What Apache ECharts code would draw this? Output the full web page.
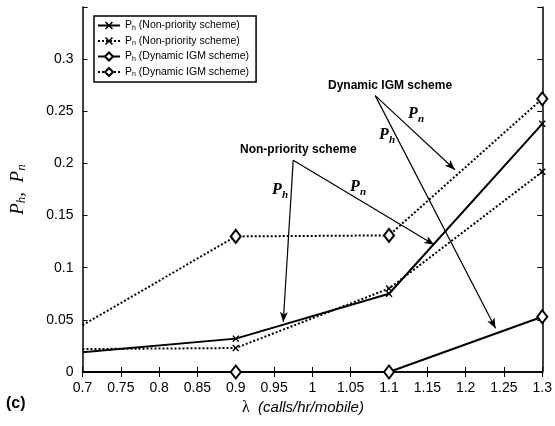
<!DOCTYPE html>
<html>
<head>
<meta charset="utf-8">
<script src="https://cdn.jsdelivr.net/npm/echarts@6/dist/echarts.min.js"></script>
<style>
  html, body { margin: 0; padding: 0; background: #fff; }
  #chart { width: 555px; height: 426px; }
</style>
</head>
<body>
<div id="chart"></div>
<script>
var myChart = echarts.init(document.getElementById('chart'));

// 数据
var lambdas = [0.7, 0.9, 1.1, 1.3];
var phNonPriority = [0.019, 0.032, 0.075, 0.238];
var pnNonPriority = [0.022, 0.023, 0.080, 0.192];
var phDynamic = [0, 0, 0, 0.053];
var pnDynamic = [0.045, 0.130, 0.131, 0.262];

var seriesNames = ['Ph (Non-priority scheme)', 'Pn (Non-priority scheme)', 'Ph (Dynamic IGM scheme)', 'Pn (Dynamic IGM scheme)'];
var legendSub = ['h', 'n', 'h', 'n'];
var legendText = [' (Non-priority scheme)', ' (Non-priority scheme)', ' (Dynamic IGM scheme)', ' (Dynamic IGM scheme)'];

var crossPath = 'path://M0,1.4L1.4,0L5,3.6L8.6,0L10,1.4L6.4,5L10,8.6L8.6,10L5,6.4L1.4,10L0,8.6L3.6,5Z';
var sans = '"Liberation Sans", Arial, Helvetica, sans-serif';
var serif = '"Liberation Serif", "Times New Roman", serif';

function pairs(vals) {
    var out = [];
    for (var i = 0; i < lambdas.length; i++) {
        if (i === 0) {
            out.push({ value: [lambdas[i], vals[i]], symbol: 'none' });
        } else {
            out.push([lambdas[i], vals[i]]);
        }
    }
    return out;
}

function makeSeries(name, vals, dotted, diamond) {
    return {
        name: name,
        type: 'line',
        data: pairs(vals),
        clip: false,
        symbol: diamond ? 'diamond' : crossPath,
        symbolSize: diamond ? [10, 13] : 7,
        itemStyle: diamond ? { color: '#fff', borderColor: '#000', borderWidth: 2 } : { color: '#000' },
        lineStyle: { color: '#000', width: 2, type: dotted ? 'dotted' : 'solid' },
        emphasis: { disabled: true },
        animation: false
    };
}

// 注释箭头 (数据坐标)
var arrows = [
    [[0.975, 0.203], [0.962, 0.048]],
    [[0.975, 0.203], [1.159, 0.122]],
    [[1.082, 0.265], [1.186, 0.194]],
    [[1.082, 0.265], [1.239, 0.042]]
];

var series = [
    makeSeries(seriesNames[0], phNonPriority, false, false),
    makeSeries(seriesNames[1], pnNonPriority, true, false),
    makeSeries(seriesNames[2], phDynamic, false, true),
    makeSeries(seriesNames[3], pnDynamic, true, true)
];

series[0].markLine = {
    silent: true,
    animation: false,
    symbol: ['none', 'arrow'],
    symbolSize: [6, 10],
    label: { show: false },
    lineStyle: { color: '#000', width: 1.2, type: 'solid' },
    data: arrows.map(function (a) {
        return [{ coord: a[0] }, { coord: a[1] }];
    })
};

function pLabel(x, y, sub) {
    return [
        { type: 'text', left: x, top: y, style: { text: 'P', font: 'italic bold 16px ' + serif, fill: '#000' } },
        { type: 'text', left: x + 10, top: y + 8, style: { text: sub, font: 'italic bold 11px ' + serif, fill: '#000' } }
    ];
}

var option = {
    backgroundColor: '#fff',
    animation: false,
    grid: { left: 80, right: 12, top: 7, bottom: 54 },
    legend: {
        data: seriesNames,
        orient: 'vertical',
        left: 94,
        top: 16,
        padding: [4, 7, 4, 3],
        itemGap: 4,
        itemWidth: 22,
        itemHeight: 10,
        backgroundColor: '#fff',
        borderColor: '#000',
        borderWidth: 1.5,
        borderRadius: 0,
        selectedMode: false,
        formatter: function (name) {
            var i = seriesNames.indexOf(name);
            return '{a|P}{s|' + legendSub[i] + '}{a|' + legendText[i] + '}';
        },
        textStyle: {
            color: '#000',
            fontFamily: sans,
            rich: {
                a: { fontSize: 10.5, fontFamily: sans, lineHeight: 12, verticalAlign: 'middle', color: '#000' },
                s: { fontSize: 7, fontFamily: sans, lineHeight: 6, verticalAlign: 'bottom', color: '#000' }
            }
        }
    },
    xAxis: [{
        type: 'value',
        min: 0.7,
        max: 1.3,
        interval: 0.05,
        axisLine: { lineStyle: { color: '#000', width: 1.5 } },
        axisTick: { inside: true, length: 5, lineStyle: { color: '#000' } },
        axisLabel: {
            color: '#000', fontSize: 14, fontFamily: sans, margin: 9,
            formatter: function (v) { return String(+v.toFixed(2)); }
        },
        splitLine: { show: false }
    }, {
        type: 'value',
        position: 'top',
        min: 0.7,
        max: 1.3,
        interval: 0.05,
        axisLine: { lineStyle: { color: '#000', width: 1.5 } },
        axisTick: { inside: true, length: 5, lineStyle: { color: '#000' } },
        axisLabel: { show: false },
        splitLine: { show: false }
    }],
    yAxis: [{
        type: 'value',
        min: 0,
        max: 0.35,
        interval: 0.05,
        name: '{p|P}{s|h}{p|,  P}{s|n}',
        nameLocation: 'middle',
        nameRotate: 90,
        nameGap: 54,
        nameTextStyle: {
            rich: {
                p: { fontSize: 19, fontStyle: 'italic', fontFamily: serif, lineHeight: 22, verticalAlign: 'middle', color: '#000' },
                s: { fontSize: 13, fontStyle: 'italic', fontFamily: serif, lineHeight: 8, verticalAlign: 'bottom', color: '#000' }
            }
        },
        axisLine: { lineStyle: { color: '#000', width: 1.5 } },
        axisTick: { inside: true, length: 5, lineStyle: { color: '#000' } },
        axisLabel: {
            color: '#000', fontSize: 14, fontFamily: sans, margin: 9,
            formatter: function (v) {
                if (v > 0.33) return '';
                return String(+v.toFixed(2));
            }
        },
        splitLine: { show: false }
    }, {
        type: 'value',
        position: 'right',
        min: 0,
        max: 0.35,
        interval: 0.05,
        axisLine: { lineStyle: { color: '#000', width: 1.5 } },
        axisTick: { inside: true, length: 5, lineStyle: { color: '#000' } },
        axisLabel: { show: false },
        splitLine: { show: false }
    }],
    graphic: [
        { type: 'text', left: 240, top: 144, style: { text: 'Non-priority scheme', font: 'bold 12px ' + sans, fill: '#000' } },
        { type: 'text', left: 328, top: 80, style: { text: 'Dynamic IGM scheme', font: 'bold 12px ' + sans, fill: '#000' } },
        { type: 'text', left: 6, top: 396, style: { text: '(c)', font: 'bold 16px ' + sans, fill: '#000' } },
        {
            type: 'text', left: 242, top: 400,
            style: {
                text: '{l|λ}{t|  (calls/hr/mobile)}',
                rich: {
                    l: { font: '16px ' + serif, fill: '#000' },
                    t: { font: 'italic 15px ' + sans, fill: '#000' }
                }
            }
        }
    ].concat(pLabel(272, 182, 'h'), pLabel(350, 179, 'n'), pLabel(379, 127, 'h'), pLabel(408, 106, 'n')),
    series: series
};

myChart.setOption(option);
</script>
</body>
</html>
